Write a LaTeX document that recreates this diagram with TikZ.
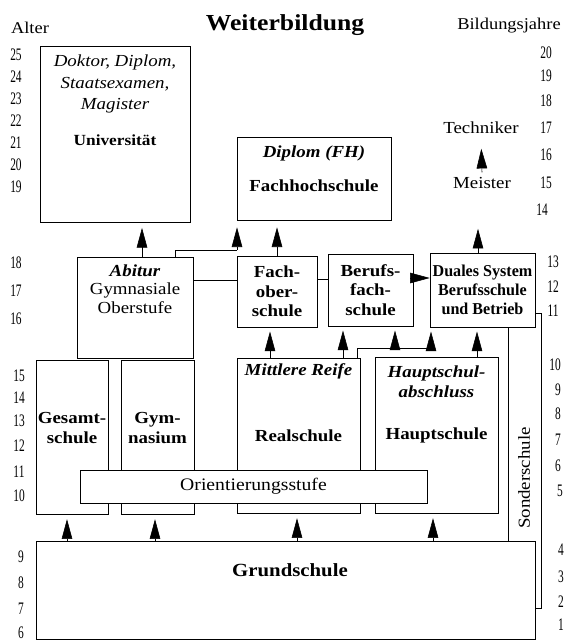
\documentclass[tikz,border=0pt]{standalone}
\usepackage{fontspec}
\setmainfont{Liberation Serif}[FakeStretch=1.12]
\newfontfamily\zahlfont{Liberation Serif}[FakeStretch=0.65]
\newfontfamily\engfont{Liberation Serif}[FakeStretch=0.97]
\usetikzlibrary{arrows.meta}

\tikzset{
  kasten/.style={draw, thin, inner sep=2pt, align=center, font=\bfseries\fontsize{12}{14}\selectfont},
  schulname/.style={align=center, font=\bfseries\fontsize{12}{14}\selectfont},
  grad/.style={anchor=north, yshift=-3pt, align=center, font=\bfseries\itshape\fontsize{12}{14}\selectfont},
  schrift/.style={font=\fontsize{12}{14}\selectfont},
  pfeil/.style={thin, -{Triangle[length=14pt,width=7.5pt]}, shorten >=3pt},
  jahr/.style={font=\zahlfont\fontsize{12.5}{14}\selectfont},
}

\begin{document}
\begin{tikzpicture}[x=0.025cm, y=-0.025cm]
        \def\u{0.025cm}
        \useasboundingbox (0,0) rectangle (566,644);
        % Kopf
        \node[anchor=base, font=\bfseries\fontsize{16.3}{18}\selectfont] (titel) at (285,31) {Weiterbildung};
        \node[anchor=base, font=\fontsize{11.7}{13}\selectfont] (alter) at (30,34) {Alter};
        \node[anchor=base, font=\fontsize{11.7}{13}\selectfont] (bildung) at (509,30) {Bildungsjahre};
        % Altersangaben links, Bildungsjahre rechts
        \foreach \n/\x/\y in {25/16/55,24/16/77,23/16/99,22/16/121,21/16/143,20/16/165,19/16/187,
                18/16/263,17/16/291,16/16/319,15/19/376,14/19/398,13/19/421,12/19/446,11/19/472,10/19/496,
                9/21/557,8/21/583,7/21/609,6/21/633}
            \node[jahr] (l\n) at (\x,\y) {\n};
        \foreach \n/\x/\y in {20/546/53,19/546/76,18/546/101,17/546/128,16/546/155,15/546/183,14/542/210,
                13/553/262,12/553/287,11/553/311,10/555/365,9/558/390,8/558/414,7/558/440,6/558/466,5/560/491,
                4/561/550,3/561/577,2/561/602,1/561/625}
            \node[jahr] (r\n) at (\x,\y) {\n};
        % Hochschulen
        \node[kasten, minimum width=150*\u, minimum height=176*\u] (uni) at (115,134) {};
        \node[grad, font=\itshape\fontsize{12}{15.3}\selectfont] (unigrad) at (uni.north) {Doktor, Diplom,\\Staatsexamen,\\Magister};
        \node[schulname, font=\bfseries\fontsize{11}{13}\selectfont] (unitext) at (115,140) {Universität};
        \node[kasten, minimum width=154*\u, minimum height=83*\u] (fh) at (314,178.5) {};
        \node[grad] (fhgrad) at (fh.north) {Diplom (FH)};
        \node[schulname] (fhtext) at (314,186) {Fachhochschule};
        \node[schrift] (techniker) at (481,128) {Techniker};
        \node[schrift] (meister) at (482,183) {Meister};
        % Sekundarstufe II
        \node[kasten, minimum width=116*\u, minimum height=101*\u] (abi) at (135,307.5) {};
        \node[grad, yshift=1pt, font=\fontsize{12}{13.2}\selectfont] (abigrad) at (abi.north) {\textbf{\textit{Abitur}}\\Gymnasiale\\Oberstufe};
        \node[kasten, minimum width=80*\u, minimum height=71*\u] (fos) at (277,291.5) {Fach-\\ober-\\schule};
        \node[kasten, minimum width=85*\u, minimum height=72*\u] (bfs) at (370.5,290) {Berufs-\\fach-\\schule};
        \node[kasten, inner sep=1pt, font=\engfont\bfseries\fontsize{11.8}{13.4}\selectfont, minimum width=105*\u, minimum height=74*\u] (dual) at (482.5,290) {Duales System\\Berufsschule\\und Betrieb};
        % Sekundarstufe I
        \node[kasten, minimum width=72*\u, minimum height=154*\u] (gesamt) at (72,437) {};
        \node[schulname] (gesamttext) at (72,428) {Gesamt-\\schule};
        \node[kasten, minimum width=73*\u, minimum height=154*\u] (gym) at (157.5,437) {};
        \node[schulname] (gymtext) at (157.5,428) {Gym-\\nasium};
        \node[kasten, minimum width=123*\u, minimum height=155*\u] (real) at (298.5,435.5) {Realschule};
        \node[grad, yshift=2pt] (realgrad) at (real.north) {Mittlere Reife};
        \node[kasten, minimum width=123*\u, minimum height=156*\u] (haupt) at (436.5,435) {Hauptschule};
        \node[grad] (hauptgrad) at (haupt.north) {Hauptschul-\\abschluss};
        \node[kasten, fill=white, font=\fontsize{12.5}{14}\selectfont, minimum width=347*\u, minimum height=33*\u] (orient) at (253.5,486.5) {Orientierungsstufe};
        \node[schrift, rotate=90] (sonder) at (524,478) {Sonderschule};
        % Primarstufe
        \node[kasten, minimum width=499*\u, minimum height=98*\u] (grund) at (285.5,590) {};
        \node[schulname, font=\bfseries\fontsize{13.2}{15}\selectfont] (grundtext) at (290,570) {Grundschule};
        % Verbindungen
        \coordinate (abzweig) at (237,250);
        \coordinate (knick) at (357,348);
        \coordinate (ecke) at (541,608);
        \draw[pfeil, shorten >=4pt] (142,0 |- abi.north) -- (142,0 |- uni.south);
        \draw (175,0 |- abi.north) |- (abzweig);
        \draw[pfeil, shorten >=5pt] (abzweig) -- (abzweig |- fh.south);
        \draw[pfeil, shorten >=5pt] (fos.north) -- (fos.north |- fh.south);
        \draw[pfeil, shorten >=25pt] (dual.north -| 478,0) -- (meister.south -| 478,0);
        \draw[pfeil, shorten >=7pt] (meister.north) -- (techniker.south);
        \draw (abi.east |- 0,280) -- (fos.west |- 0,280);
        \draw (fos.east |- 0,279) -- (bfs.west |- 0,279);
        \draw[pfeil, shorten >=0pt] (bfs.east |- 0,278) -- (dual.west |- 0,278);
        \draw[pfeil] (270,0 |- real.north) -- (270,0 |- fos.south);
        \draw[pfeil] (343,0 |- real.north) -- (343,0 |- bfs.south);
        \draw (knick |- real.north) -- (knick) -- (knick -| 431,0);
        \draw[pfeil] (knick -| 395,0) -- (395,0 |- bfs.south);
        \draw[pfeil] (knick -| 431,0) -- (431,0 |- dual.south);
        \draw[pfeil] (477,0 |- haupt.north) -- (477,0 |- dual.south);
        \draw (508,0 |- dual.south) -- (508,0 |- grund.north);
        \draw (dual.east |- 0,313) -| (ecke) -- (grund.east |- ecke);
        \draw[pfeil, shorten >=3.5pt] (67,0 |- grund.north) -- (67,0 |- gesamt.south);
        \draw[pfeil, shorten >=3.5pt] (155,0 |- grund.north) -- (155,0 |- gym.south);
        \draw[pfeil, shorten >=3.5pt] (297,0 |- grund.north) -- (297,0 |- real.south);
        \draw[pfeil, shorten >=3.5pt] (433,0 |- grund.north) -- (433,0 |- haupt.south);
\end{tikzpicture}
\end{document}
